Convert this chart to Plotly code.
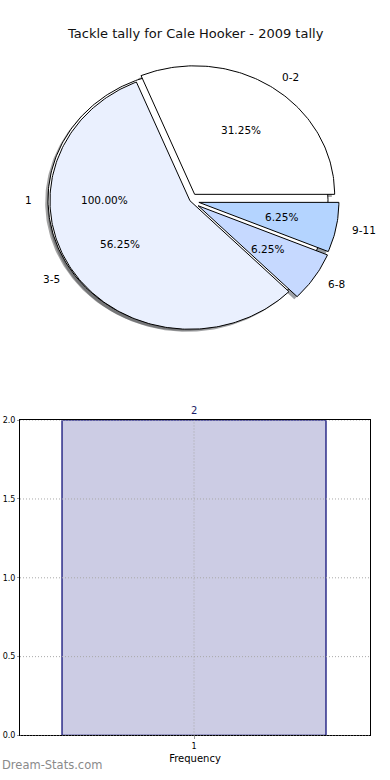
import numpy as np
import plotly.graph_objects as go

# ---------------- data ----------------
title_text = "Tackle tally for Cale Hooker - 2009 tally"
pie_labels = ["0-2", "3-5", "6-8", "9-11"]
pie_values = [5, 9, 1, 1]
freq_labels = ["1"]
freq_values = [2]
freq_axis_title = "Frequency"
y_ticks = [0.0, 0.5, 1.0, 1.5, 2.0]
watermark = "Dream-Stats.com"

# ---------------- styles ----------------
pie_colors = ["#ffffff", "#eaf0fe", "#c6d9ff", "#b4d4ff"]
explode = [0.06, 0.0, 0.07, 0.065]
back_color = "#ffffff"
main_offset = (0.014, -0.008)
shadow_off = (-0.02, -0.02)
FONT = "DejaVu Sans"
W, H = 390, 780


def wedge_pts(cx, cy, t1, t2, r=1.0):
    n = max(int(abs(t2 - t1) / 1.0), 4)
    th = np.radians(np.linspace(t1, t2, n + 1))
    xs = cx + r * np.cos(th)
    ys = cy + r * np.sin(th)
    if abs(t2 - t1) >= 359.999:
        return list(xs), list(ys)
    return [cx] + list(xs) + [cx], [cy] + list(ys) + [cy]


def shade(hexcol):
    h = hexcol.lstrip("#")
    r, g, b = (int(h[i:i + 2], 16) for i in (0, 2, 4))
    return "rgba(%d,%d,%d,0.5)" % (r * 0.3, g * 0.3, b * 0.3)


fig = go.Figure()
annotations = []

back_total = sum(freq_values)
back_wedges = []
t = 0.0
for lab, v in zip(freq_labels, freq_values):
    frac = v / back_total
    t1, t2 = t, t + 360 * frac
    back_wedges.append((lab, frac, 0.0, 0.0, t1, t2, back_color))
    t = t2

total = sum(pie_values)
main_wedges = []
t = 0.0
for lab, v, c, e in zip(pie_labels, pie_values, pie_colors, explode):
    frac = v / total
    t1, t2 = t, t + 360 * frac
    tm = np.radians((t1 + t2) / 2)
    cx = main_offset[0] + e * np.cos(tm)
    cy = main_offset[1] + e * np.sin(tm)
    main_wedges.append((lab, frac, cx, cy, t1, t2, c))
    t = t2

all_wedges = back_wedges + main_wedges

for lab, frac, cx, cy, t1, t2, c in all_wedges:
    xs, ys = wedge_pts(cx + shadow_off[0], cy + shadow_off[1], t1, t2)
    fig.add_trace(go.Scatter(x=xs, y=ys, fill="toself", mode="lines",
                             line=dict(width=0), fillcolor=shade(c),
                             hoverinfo="skip", showlegend=False,
                             xaxis="x", yaxis="y"))

for lab, frac, cx, cy, t1, t2, c in all_wedges:
    xs, ys = wedge_pts(cx, cy, t1, t2)
    fig.add_trace(go.Scatter(x=xs, y=ys, fill="toself", mode="lines",
                             line=dict(width=1, color="#000000"), fillcolor=c,
                             hoverinfo="skip", showlegend=False,
                             xaxis="x", yaxis="y"))
    tm = np.radians((t1 + t2) / 2)
    ex, ey = np.cos(tm), np.sin(tm)
    lx, ly = cx + 1.1 * ex, cy + 1.1 * ey
    annotations.append(dict(x=lx, y=ly, xref="x", yref="y", text=lab,
                            showarrow=False, xanchor="left" if lx > 0 else "right",
                            yanchor="middle",
                            font=dict(family=FONT, size=10.5, color="#000000")))
    px_, py_ = cx + 0.6 * ex, cy + 0.6 * ey
    annotations.append(dict(x=px_, y=py_, xref="x", yref="y",
                            text="%.2f%%" % (frac * 100), showarrow=False,
                            xanchor="center", yanchor="middle",
                            font=dict(family=FONT, size=10.5, color="#000000")))

# ---------------- bar chart ----------------
fig.add_trace(go.Bar(x=[1], y=freq_values, width=0.8,
                     marker=dict(color="#cccce4",
                                 line=dict(color="#000070", width=1.2)),
                     hoverinfo="skip", showlegend=False,
                     xaxis="x2", yaxis="y2"))

for v in freq_values:
    annotations.append(dict(x=1, y=v, xref="x2", yref="y2", text=str(v),
                            showarrow=False, yanchor="bottom", yshift=2,
                            font=dict(family=FONT, size=10, color="#1c1c66")))

shapes = []
for yv in y_ticks:
    shapes.append(dict(type="line", xref="x2 domain", yref="y2", x0=0, x1=1,
                       y0=yv, y1=yv, layer="above",
                       line=dict(color="#a8a8a8", width=1, dash="1px,2px")))
shapes.append(dict(type="line", xref="x2", yref="y2 domain", x0=1, x1=1,
                   y0=0, y1=1, layer="above",
                   line=dict(color="#a8a8a8", width=1, dash="1px,2px")))

annotations.append(dict(x=0.5, y=(H - 30) / H, xref="paper", yref="paper",
                        text=title_text, showarrow=False, xanchor="center",
                        yanchor="middle",
                        font=dict(family=FONT, size=13, color="#111111")))
annotations.append(dict(x=0.0, y=(H - 770) / H, xref="paper", yref="paper",
                        text=watermark, showarrow=False, xanchor="left",
                        yanchor="middle",
                        font=dict(family=FONT, size=11.5, color="#8a8a8a")))

pie_cx_px, pie_cy_px = 188, 198
pie_x0 = pie_cx_px - 1.25 * 140
pie_x1 = pie_cx_px + 1.25 * 140
pie_y0 = pie_cy_px - 1.25 * 130
pie_y1 = pie_cy_px + 1.25 * 130

fig.update_layout(
    width=W, height=H, autosize=False,
    margin=dict(l=0, r=0, t=0, b=0),
    paper_bgcolor="#ffffff", plot_bgcolor="#ffffff",
    showlegend=False,
    font=dict(family=FONT),
    xaxis=dict(domain=[pie_x0 / W, pie_x1 / W], range=[-1.25, 1.25],
               visible=False, fixedrange=True),
    yaxis=dict(domain=[(H - pie_y1) / H, (H - pie_y0) / H], range=[-1.25, 1.25],
               visible=False, fixedrange=True),
    xaxis2=dict(domain=[20 / W, 370 / W], range=[0.4727, 1.5333],
                anchor="y2", tickvals=[1], ticktext=freq_labels,
                showgrid=False, zeroline=False, fixedrange=True,
                showline=True, mirror=True, linecolor="#000000", linewidth=1,
                ticks="outside", ticklen=3, tickcolor="#999999",
                tickfont=dict(family=FONT, size=8, color="#000000"),
                title=dict(text=freq_axis_title, standoff=4,
                           font=dict(family=FONT, size=10, color="#000000"))),
    yaxis2=dict(domain=[(H - 740) / H, (H - 421) / H], range=[0, 2],
                anchor="x2", tickvals=y_ticks, fixedrange=True,
                ticktext=["%.1f" % v for v in y_ticks],
                showgrid=False, zeroline=False,
                showline=True, mirror=True, linecolor="#000000", linewidth=1,
                ticks="outside", ticklen=2, tickcolor="#999999",
                tickfont=dict(family=FONT, size=8, color="#000000")),
    annotations=annotations,
    shapes=shapes,
)

post = (
    "document.documentElement.style.margin='0';"
    "document.documentElement.style.overflow='hidden';"
    "document.body.style.margin='0';"
    "document.body.style.padding='0';"
    "document.body.style.overflow='hidden';"
    "var d=document.getElementById('{plot_id}');"
    "d.style.position='fixed';d.style.left='0px';d.style.top='0px';"
)

fig.write_html("out.html", config={"displayModeBar": False, "staticPlot": True},
               post_script=post)
